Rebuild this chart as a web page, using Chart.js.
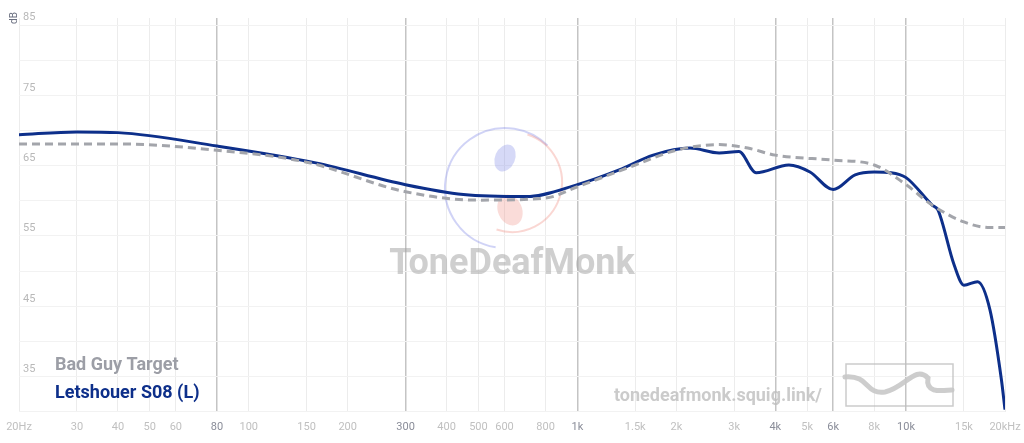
<!DOCTYPE html>
<html lang="en">
<head>
<meta charset="UTF-8">
<title>Frequency response</title>
<script src="https://cdn.jsdelivr.net/npm/chart.js"></script>
<style>
  body { margin: 0; padding: 0; background: #fff; }
  #wrap { width: 1024px; height: 443px; position: relative; }
</style>
</head>
<body>
<div id="wrap"><canvas id="fr"></canvas></div>
<script>
// measured curve (Letshouer S08 L)
const s08Freq = [20, 30, 40, 80, 160, 300, 450, 700, 1000, 1340, 1700, 2200, 2700, 3100, 3500, 4400, 5100, 6000, 7000, 8000, 9000, 10000, 12000, 12500, 14000, 15000, 16500, 18000, 19500, 20000];
const s08Db   = [69.4, 69.8, 69.7, 67.8, 65.4, 62.3, 60.9, 60.6, 62.3, 64.4, 66.5, 67.5, 66.8, 67.0, 64.0, 65.1, 64.1, 61.6, 63.7, 64.1, 64.0, 63.3, 59.4, 58.7, 50.9, 48.0, 48.5, 44.5, 34.6, 30.3];
// target curve (Bad Guy Target)
const tgtFreq = [20, 40, 80, 150, 300, 500, 800, 1000, 1500, 2000, 2700, 3300, 4000, 6000, 8000, 10000, 12000, 15000, 18000, 20000];
const tgtDb   = [68.1, 68.1, 67.2, 65.5, 61.3, 60.1, 60.4, 62.0, 65.1, 67.2, 68.0, 67.5, 66.5, 65.8, 65.1, 62.3, 59.4, 57.0, 56.2, 56.2];

const xTicks = [20, 30, 40, 50, 60, 80, 100, 150, 200, 300, 400, 500, 600, 800, 1000, 1500, 2000, 3000, 4000, 5000, 6000, 8000, 10000, 15000, 20000];
const xMajor = [80, 300, 1000, 4000, 6000, 10000];
const yTicks = [30, 35, 40, 45, 50, 55, 60, 65, 70, 75, 80, 85];
const yLabels = [85, 75, 65, 55, 45, 35];

function fmtHz(v) {
    if (v === 20) return '20Hz';
    if (v === 20000) return '20kHz';
    if (v >= 1000) return (v / 1000) + 'k';
    return String(v);
}

const overlay = {
    id: 'overlay',
    beforeDatasetsDraw(chart) {
        const { ctx, scales: { y } } = chart;
        ctx.save();
        // logo arcs
        ctx.lineWidth = 2;
        ctx.strokeStyle = 'rgba(120,130,230,0.35)';
        ctx.beginPath(); ctx.arc(505, 188, 60, Math.PI * 0.55, Math.PI * 1.75); ctx.stroke();
        ctx.strokeStyle = 'rgba(240,140,130,0.35)';
        ctx.beginPath(); ctx.arc(512, 182, 50, Math.PI * 1.6, Math.PI * 0.6); ctx.stroke();
        ctx.fillStyle = 'rgba(120,130,230,0.3)';
        ctx.beginPath(); ctx.ellipse(505, 158, 10, 14, 0.4, 0, Math.PI * 2); ctx.fill();
        ctx.fillStyle = 'rgba(240,140,130,0.3)';
        ctx.beginPath(); ctx.ellipse(510, 210, 12, 16, -0.4, 0, Math.PI * 2); ctx.fill();
        // watermark text
        ctx.textAlign = 'center';
        ctx.textBaseline = 'middle';
        ctx.font = 'bold 36px Roboto';
        ctx.fillStyle = 'rgba(160,160,160,0.5)';
        ctx.fillText('ToneDeafMonk', 512, 265);
        ctx.font = 'bold 18px Roboto';
        ctx.fillStyle = 'rgba(190,190,190,0.8)';
        ctx.fillText('tonedeafmonk.squig.link/', 718, 396);
        // small logo box
        ctx.strokeStyle = 'rgba(190,190,190,0.8)';
        ctx.lineWidth = 1.5;
        ctx.strokeRect(846, 364, 107, 42);
        ctx.strokeStyle = 'rgba(200,200,200,0.9)';
        ctx.lineWidth = 5;
        ctx.lineCap = 'round';
        ctx.beginPath();
        ctx.moveTo(845, 377);
        ctx.bezierCurveTo(870, 375, 865, 395, 885, 392);
        ctx.bezierCurveTo(905, 388, 915, 365, 928, 378);
        ctx.bezierCurveTo(925, 395, 945, 390, 952, 390);
        ctx.stroke();
        // y labels and dB
        ctx.textAlign = 'left';
        ctx.textBaseline = 'bottom';
        ctx.font = '11px Roboto';
        ctx.fillStyle = '#b8b8b8';
        yLabels.forEach(v => ctx.fillText(String(v), 23, y.getPixelForValue(v) - 2));
        ctx.save();
        ctx.translate(14, 18);
        ctx.rotate(-Math.PI / 2);
        ctx.fillStyle = '#6b7080';
        ctx.font = '10px Roboto';
        ctx.textBaseline = 'middle';
        ctx.fillText('dB', -6, 0);
        ctx.restore();
        ctx.restore();
    },
    afterDatasetsDraw(chart) {
        const { ctx } = chart;
        ctx.save();
        ctx.font = 'bold 18px Roboto';
        ctx.textBaseline = 'middle';
        ctx.fillStyle = '#9c9ea6';
        ctx.fillText('Bad Guy Target', 55, 365);
        ctx.fillStyle = '#0d2f8a';
        ctx.fillText('Letshouer S08 (L)', 55, 393);
        ctx.restore();
    }
};

const ctx = document.getElementById('fr').getContext('2d');
new Chart(ctx, {
    type: 'line',
    data: {
        datasets: [
            {
                label: 'Bad Guy Target',
                data: tgtFreq.map((f, i) => ({ x: f, y: tgtDb[i] })),
                borderColor: '#a3a5ab',
                borderWidth: 3,
                borderDash: [8, 5],
                pointRadius: 0,
                cubicInterpolationMode: 'monotone'
            },
            {
                label: 'Letshouer S08 (L)',
                data: s08Freq.map((f, i) => ({ x: f, y: s08Db[i] })),
                borderColor: '#0d2f8a',
                borderWidth: 3,
                pointRadius: 0,
                cubicInterpolationMode: 'monotone'
            }
        ]
    },
    options: {
        responsive: true,
        maintainAspectRatio: false,
        animation: false,
        layout: { padding: { left: 19, right: 19, top: 18, bottom: 0 } },
        plugins: { legend: { display: false }, tooltip: { enabled: false } },
        scales: {
            x: {
                type: 'logarithmic',
                min: 20,
                max: 20000,
                afterBuildTicks: axis => { axis.ticks = xTicks.map(v => ({ value: v })); },
                afterFit: axis => { axis.paddingLeft = 0; axis.paddingRight = 0; },
                grid: {
                    drawTicks: false,
                    color: c => xMajor.includes(c.tick && c.tick.value) ? '#c4c4c4' : '#ececec',
                    lineWidth: c => xMajor.includes(c.tick && c.tick.value) ? 1.5 : 1
                },
                border: { display: false },
                ticks: {
                    autoSkip: false,
                    maxRotation: 0,
                    padding: 9,
                    font: { family: 'Roboto', size: 11 },
                    color: c => xMajor.includes(c.tick.value) ? '#8a8d99' : '#c0c0c0',
                    callback: v => fmtHz(v)
                }
            },
            y: {
                min: 30,
                max: 86,
                afterBuildTicks: axis => { axis.ticks = yTicks.map(v => ({ value: v })); },
                grid: { drawTicks: false, color: '#f2f2f2' },
                border: { display: false },
                ticks: { display: false }
            }
        }
    },
    plugins: [overlay]
});
</script>
</body>
</html>
